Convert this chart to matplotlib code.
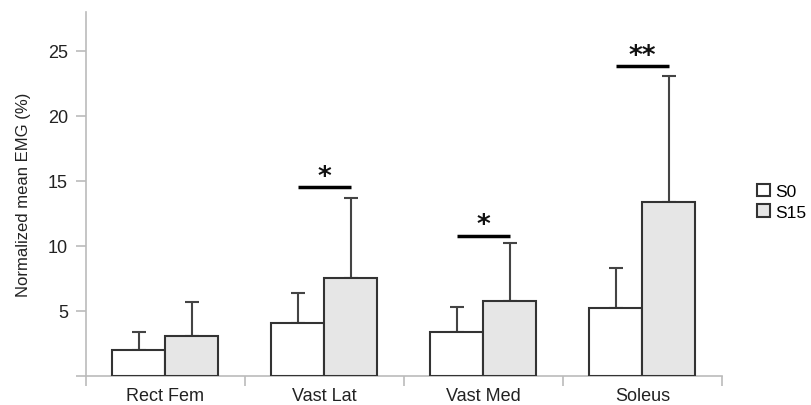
import matplotlib
matplotlib.use("Agg")
from matplotlib import pyplot as plt
import numpy as np

muscles = ["Rect Fem", "Vast Lat", "Vast Med", "Soleus"]
s0_mean = [2.0, 4.1, 3.4, 5.2]
s0_sd = [1.4, 2.3, 1.9, 3.1]
s15_mean = [3.1, 7.5, 5.8, 13.4]
s15_sd = [2.6, 6.2, 4.4, 9.7]
sig_labels = ["", "*", "*", "**"]
sig_heights = [0, 14.5, 10.8, 23.8]

plt.rcParams['font.family'] = ['Liberation Sans', 'DejaVu Sans']

fig = plt.figure(figsize=(8.11, 4.06), dpi=100)
ax = fig.add_axes([0.106, 0.0714, 0.784, 0.897])

x = np.arange(len(muscles))
w = 1 / 3
edge = '#333333'
ax.bar(x - w / 2, s0_mean, w, color='white', edgecolor=edge, linewidth=1.5, label='S0', zorder=3)
ax.bar(x + w / 2, s15_mean, w, color='#e6e6e6', edgecolor=edge, linewidth=1.5, label='S15', zorder=3)
ax.errorbar(x - w / 2, s0_mean, yerr=[np.zeros(4), s0_sd], fmt='none', ecolor='#444444',
            elinewidth=1.5, capsize=5, capthick=1.5, zorder=2)
ax.errorbar(x + w / 2, s15_mean, yerr=[np.zeros(4), s15_sd], fmt='none', ecolor='#444444',
            elinewidth=1.5, capsize=5, capthick=1.5, zorder=2)

for i, (lab, h) in enumerate(zip(sig_labels, sig_heights)):
    if not lab:
        continue
    ax.plot([i - w / 2, i + w / 2], [h, h], color='black', lw=2.5, solid_capstyle='butt')
    ax.text(i, h + 0.25, lab, ha='center', va='baseline', fontsize=19, fontweight='bold',
            color='#111111', family='DejaVu Sans')

ax.set_xlim(-0.5, 3.5)
ax.set_ylim(0, 28)
ax.set_yticks([0, 5, 10, 15, 20, 25])
ax.set_yticklabels(['', '5', '10', '15', '20', '25'])
ax.set_xticks(x)
ax.set_xticklabels(muscles)
ax.set_xticks([-0.5, 0.5, 1.5, 2.5, 3.5], minor=True)
ax.tick_params(axis='x', which='major', length=0, labelsize=13, colors='#222222', pad=8)
ax.tick_params(axis='x', which='minor', length=7, color='#bbbbbb', width=1.2)
ax.tick_params(axis='y', length=7, color='#bbbbbb', width=1.2, labelsize=13, labelcolor='#222222', pad=6)
ax.set_ylabel('Normalized mean EMG (%)', fontsize=12, color='#222222', labelpad=12)

for s in ['top', 'right']:
    ax.spines[s].set_visible(False)
for s in ['left', 'bottom']:
    ax.spines[s].set_color('#bbbbbb')
    ax.spines[s].set_linewidth(1.2)

fig.legend(loc='upper left', bbox_to_anchor=(0.933, 0.545), frameon=False, fontsize=12.5,
           handlelength=0.75, handleheight=0.75, handletextpad=0.3, labelspacing=0.3,
           borderaxespad=0, borderpad=0)

fig.savefig('out.png', dpi=100)
